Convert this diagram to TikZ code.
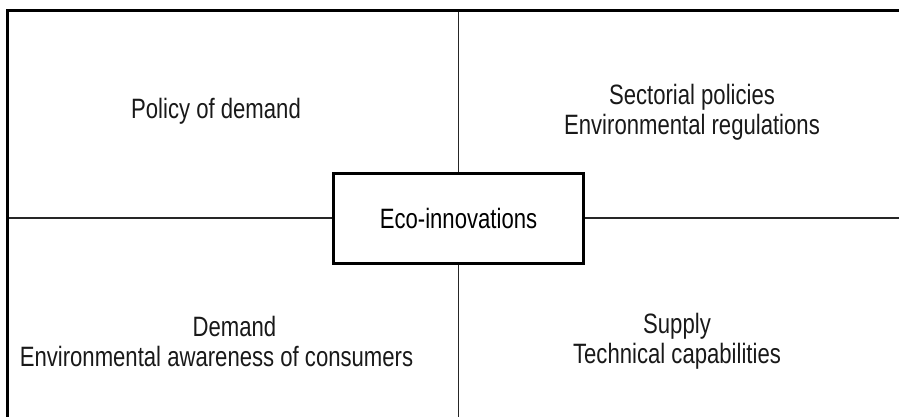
\documentclass[tikz,border=0pt]{standalone}
\usepackage{fontspec}
\setmainfont{Liberation Sans}[FakeStretch=0.79]
\usepackage{tikz}
\tikzset{
	frame/.style={line width=3pt},
	rule/.style={line width=1.2pt,black!85},
	box/.style={draw,line width=3pt,fill=white,minimum width=250pt,minimum height=90pt,inner sep=0pt,font=\fontsize{28}{30}\selectfont},
	quad/.style={align=center,inner sep=0pt,text=black!90,font=\fontsize{28}{30}\selectfont}
}
\begin{document}
\begin{tikzpicture}[x=1pt,y=-1pt]
						\useasboundingbox (0,0) rectangle (899,417);
						\coordinate (tl) at (7.5,10.5);
						\coordinate (tr) at (899,10.5);
						\coordinate (bl) at (7.5,417);
						\coordinate (br) at (899,417);

						\node [box] (eco) at (458.5,218) {Eco-innovations};

						\node [quad] (pol) at (216,111) {Policy of demand};
						\node [quad] (sec) at (692,112) {Sectorial policies\\Environmental regulations};
						\node [quad] (dem) at (216.5,341) {\hspace*{36pt}Demand\\Environmental awareness of consumers};
						\node [quad] (sup) at (677,341) {Supply\\Technical capabilities};

						\draw [rule] (eco.north) -- (eco.north |- tl);
						\draw [rule] (eco.south) -- (eco.south |- bl);
						\draw [rule] (eco.west) -- (eco.west -| tl);
						\draw [rule] (eco.east) -- (eco.east -| tr);
						\draw [frame] (bl) -- (tl) -- (tr);
					\end{tikzpicture}
\end{document}
